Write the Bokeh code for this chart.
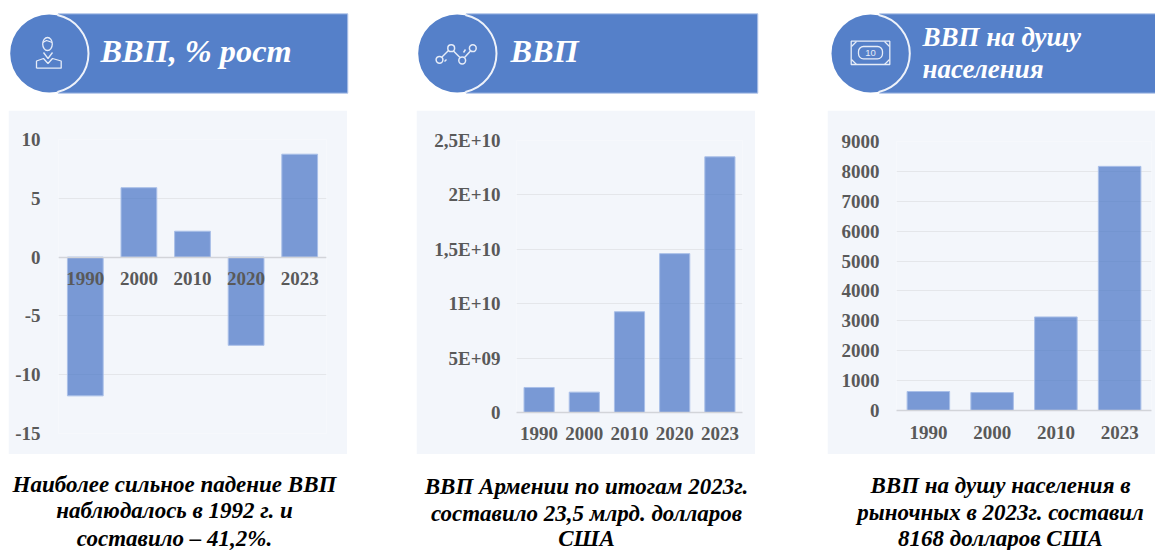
from bokeh.embed import file_html
from bokeh.resources import INLINE
from bokeh.plotting import figure
from bokeh.layouts import column, row
from bokeh.models import FactorRange, Range1d, FixedTicker, Spacer
from bokeh.core.properties import value
import math

# ---- data ----
growth_years = ["1990", "2000", "2010", "2020", "2023"]
growth_values = [-11.8, 5.9, 2.2, -7.5, 8.75]
growth_ticks = [-15, -10, -5, 0, 5, 10]

gdp_years = ["1990", "2000", "2010", "2020", "2023"]
gdp_values = [2.3e9, 1.87e9, 9.26e9, 14.6e9, 23.5e9]
gdp_ticks = [0, 5e9, 1e10, 1.5e10, 2e10, 2.5e10]
gdp_tick_labels = ["0", "5E+09", "1E+10", "1,5E+10", "2E+10", "2,5E+10"]

pc_years = ["1990", "2000", "2010", "2023"]
pc_values = [635, 600, 3130, 8168]
pc_ticks = [0, 1000, 2000, 3000, 4000, 5000, 6000, 7000, 8000, 9000]

header_titles = [["ВВП, % рост"], ["ВВП"], ["ВВП на душу", "населения"]]
captions = [
    ["Наиболее сильное падение ВВП", "наблюдалось в 1992 г. и", "составило – 41,2%."],
    ["ВВП Армении по итогам 2023г.", "составило 23,5 млрд. долларов", "США"],
    ["ВВП на душу населения в", "рыночных в 2023г. составил", "8168 долларов США"],
]

# ---- style ----
FONT = "Liberation Serif"
HEADER = "#5580c9"
HEADER_EDGE = "#b4c7ea"
PANEL = "#f3f6fb"
BAR = "#4472c4"
BAR_EDGE = "#a9bfe8"
TEXT = "#595959"
GRID = "#e4e6ea"
AXIS = "#d2d4d9"
TICK_SIZE = "19px"


def chart(cats, vals, ticks, labels, ymin, ymax, w, h, left, right, top, bottom, standoff_y, standoff_x, inline_axis=False):
    p = figure(width=w, height=h, x_range=FactorRange(factors=cats), y_range=Range1d(ymin, ymax),
               x_axis_location=None if inline_axis else "below",
               toolbar_location=None, output_backend="svg",
               min_border_left=left, min_border_right=right, min_border_top=top, min_border_bottom=bottom)
    p.background_fill_color = PANEL
    p.border_fill_color = PANEL
    p.outline_line_color = None
    p.vbar(x=cats, top=vals, bottom=0, width=0.667, fill_color=BAR, fill_alpha=0.7,
           line_color=BAR_EDGE, line_width=1)
    p.xgrid.grid_line_color = None
    p.ygrid.grid_line_color = GRID
    p.ygrid.ticker = FixedTicker(ticks=ticks)
    ax = p.yaxis[0]
    ax.ticker = FixedTicker(ticks=ticks)
    ax.major_label_overrides = {t: l for t, l in zip(ticks, labels)}
    ax.axis_line_color = None
    ax.major_tick_line_color = None
    ax.minor_tick_line_color = None
    ax.major_label_standoff = standoff_y
    ax.major_label_text_font = FONT
    ax.major_label_text_font_style = "bold"
    ax.major_label_text_font_size = TICK_SIZE
    ax.major_label_text_color = TEXT
    if inline_axis:
        # category labels sit next to the zero line, as in the reference
        p.hspan(y=[0], line_color=AXIS, line_width=1.5)
        p.text(x=cats, y=[0] * len(cats), text=cats, y_offset=standoff_x, text_font=value(FONT),
               text_font_style="bold", text_font_size=TICK_SIZE, text_color=TEXT,
               text_align="center", text_baseline="top")
    else:
        bx = p.xaxis[0]
        bx.axis_line_color = AXIS
        bx.axis_line_width = 1.5
        bx.major_tick_line_color = None
        bx.minor_tick_line_color = None
        bx.major_label_standoff = standoff_x
        bx.major_label_text_font = FONT
        bx.major_label_text_font_style = "bold"
        bx.major_label_text_font_size = TICK_SIZE
        bx.major_label_text_color = TEXT
    return p


def canvas(x0, x1, y0, y1):
    p = figure(width=x1 - x0, height=y1 - y0, x_range=Range1d(x0, x1), y_range=Range1d(y1, y0),
               x_axis_type=None, y_axis_type=None, toolbar_location=None, output_backend="svg",
               min_border=0, min_border_left=0, min_border_right=0, min_border_top=0, min_border_bottom=0)
    p.grid.visible = False
    p.outline_line_color = None
    p.background_fill_color = "white"
    p.border_fill_color = "white"
    return p


top = canvas(0, 1155, 0, 110)
BASE_SHIFT = 0.36  # svg baseline compensation, in em


def header(cx, right, lines, size, x_text, baselines):
    top.quad(left=cx + 9, right=right, top=13.3, bottom=92.7, fill_color=HEADER, line_color=HEADER_EDGE, line_width=1)
    top.circle(x=cx, y=53, radius=39, fill_color=HEADER, line_color=None)
    top.arc(x=cx, y=53, radius=39.3, start_angle=-math.radians(78), end_angle=math.radians(78),
            direction="anticlock", line_color="#eef2fa", line_width=2)
    for t, b in zip(lines, baselines):
        top.text(x=[x_text], y=[b - BASE_SHIFT * size], text=[t], text_font=value(FONT), text_font_style="bold italic",
                 text_font_size=f"{size}px", text_color="white", text_baseline="alphabetic", text_align="left")


header(48.7, 347.3, header_titles[0], 32.3, 100, [62])
header(456.7, 757.3, header_titles[1], 32.3, 510, [62])
header(870, 1156, header_titles[2], 27, 922, [46, 78.5])

ICON = "#e6ecf8"
# person icon
top.ellipse(x=[47], y=[43.5], width=[9.6], height=[13], fill_color=None, line_color=ICON, line_width=1.3)
top.multi_line(xs=[[42.3, 46, 49, 51.7], [36, 36, 43, 47.5, 52, 60.7, 60.7, 36], [43, 47.5, 52]],
               ys=[[42, 40, 41, 42], [67.7, 60.5, 58, 63, 58, 60.5, 67.7, 67.7], [52, 58, 52]],
               line_color=ICON, line_width=1.3)
# chain icon
top.multi_line(xs=[[441.5, 448], [453, 459.5], [464, 470], [444, 446], [463, 465]],
               ys=[[56.5, 50], [50.5, 57], [57, 50.5], [61, 59], [52, 49]],
               line_color=ICON, line_width=1.5)
top.circle(x=[439, 450.7, 461.7, 472.3], y=[59.3, 47.7, 60, 47.7], radius=3.4,
           fill_color=None, line_color=ICON, line_width=1.5)
# banknote icon
top.quad(left=[850.7], right=[889.3], top=[40.7], bottom=[64], fill_color=None, line_color=ICON, line_width=1.3)
top.quad(left=[858], right=[882], top=[46], bottom=[58.3], border_radius=5, fill_color=None, line_color=ICON, line_width=1.3)
top.multi_line(xs=[[851, 856], [889, 884], [851, 856], [889, 884]],
               ys=[[46, 41], [46, 41], [59, 64], [59, 64]], line_color=ICON, line_width=1.3)
top.text(x=[870], y=[55.5 - BASE_SHIFT * 9.5], text=["10"], text_font=value("Liberation Sans"), text_font_size="9.5px",
         text_color=ICON, text_align="center", text_baseline="alphabetic")

f1 = chart(growth_years, growth_values, growth_ticks, [str(t) for t in growth_ticks], -15, 10,
           339, 344, 50, 21, 29, 21, 12, 15, inline_axis=True)
f2 = chart(gdp_years, gdp_values, gdp_ticks, gdp_tick_labels, 0, 2.5e10,
           339, 344, 100, 13, 30, 42, 10, 8)
f3 = chart(pc_years, pc_values, pc_ticks, [str(t) for t in pc_ticks], 0, 9000,
           328, 344, 69, 4, 31, 44, 11, 9)

bottom = canvas(0, 1155, 454, 550)
CAP_SIZE = 23
for cap, cx, bases in zip(captions, [174, 586, 1000], [[492, 518.5, 546], [494, 521, 546], [493, 520, 546]]):
    for t, b in zip(cap, bases):
        bottom.text(x=[cx], y=[b - BASE_SHIFT * CAP_SIZE], text=[t], text_font=value(FONT), text_font_style="bold italic",
                    text_font_size=f"{CAP_SIZE}px", text_color="black", text_align="center", text_baseline="alphabetic")

# each chart sits in its own column, so that the row does not align the three frames
layout = column(top,
                row(Spacer(width=8, height=344), column(f1), Spacer(width=69, height=344), column(f2),
                    Spacer(width=72, height=344), column(f3), spacing=0),
                bottom, spacing=0)
open("out.html", "w").write(file_html(layout, INLINE))
